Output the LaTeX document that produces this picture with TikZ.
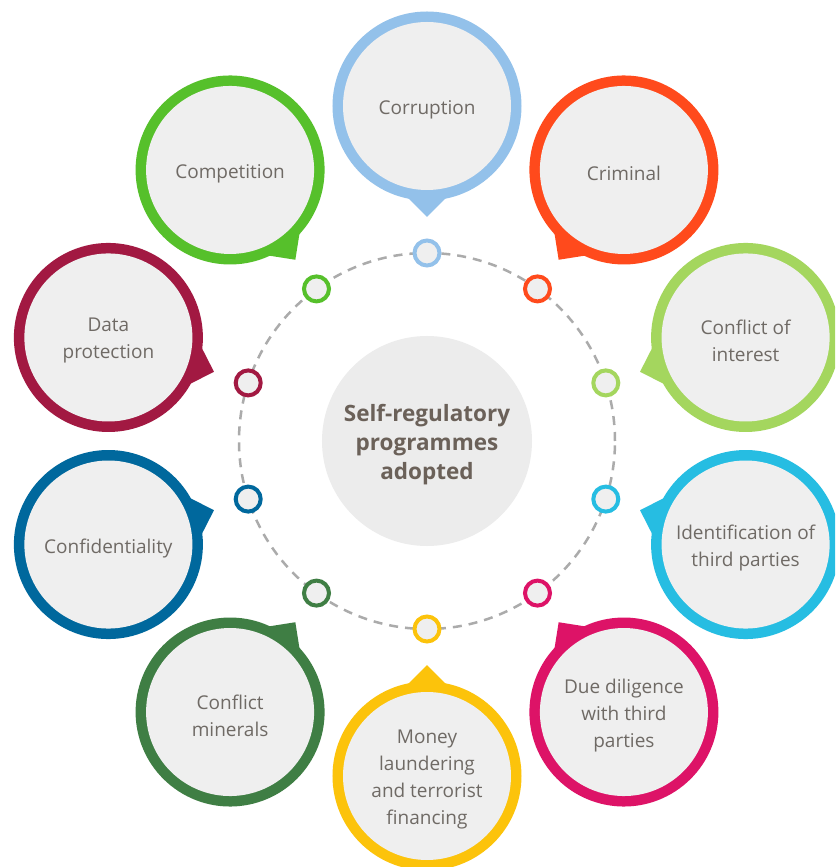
\documentclass[tikz,border=0pt]{standalone}
\usepackage{fontspec}
\setmainfont{Open Sans}
\definecolor{cCorr}{HTML}{93C1EA}
\definecolor{cCrim}{HTML}{FF4A1C}
\definecolor{cCoi}{HTML}{A4D65E}
\definecolor{cIdent}{HTML}{26BDE2}
\definecolor{cDue}{HTML}{DD1367}
\definecolor{cMoney}{HTML}{FCC30B}
\definecolor{cMin}{HTML}{3F7E44}
\definecolor{cConf}{HTML}{00689D}
\definecolor{cData}{HTML}{A21942}
\definecolor{cComp}{HTML}{56C02B}
\definecolor{bubfill}{HTML}{EFEFEF}
\definecolor{cenfill}{HTML}{ECECEC}
\definecolor{txtgray}{HTML}{6F6A65}
\definecolor{cengray}{HTML}{6B6159}
\definecolor{ringgray}{HTML}{ABABAB}
\newcommand\mybubble[4]{%
  \begin{scope}[shift={(#2:335)},rotate=#2]
    \fill[#3] (-111,0) -- (-88,23) -- (-88,-23) -- cycle;
    \fill[#3] (0,0) circle[radius=94.5];
    \fill[bubfill] (0,0) circle[radius=84];
  \end{scope}
  \node[bubtext] (#1) at (#2:335) {#4};
  \node[dot, draw=#3] (#1dot) at (#2:188) {};
}
\begin{document}
\begin{tikzpicture}[x=1pt,y=1pt,
  bubtext/.style={text=txtgray, align=center, font=\fontsize{19}{27}\selectfont, inner sep=0pt, yshift=-3.5pt},
  dot/.style={circle, line width=4pt, fill=bubfill, minimum size=25pt, inner sep=0pt},
  centre/.style={circle, fill=cenfill, minimum size=210pt, inner sep=0pt, text=cengray, align=center, font=\bfseries\fontsize{22.5}{29}\selectfont}]
\clip (-427,-426) rectangle (408,441);
\fill[white] (-427,-426) rectangle (408,441);
\draw[ringgray, line width=2.5pt, dash pattern=on 9pt off 7pt] (0,0) circle[radius=188];
\node[centre] (centre) at (0,0) {};
\node[text=cengray, align=center, font=\bfseries\fontsize{22.5}{29}\selectfont, inner sep=0pt] (centretext) at (0,-4) {Self-regulatory\\programmes\\adopted};
\mybubble{corr}{90}{cCorr}{Corruption}
\mybubble{crim}{54}{cCrim}{Criminal}
\mybubble{coi}{18}{cCoi}{Conflict of\\interest}
\mybubble{ident}{-18}{cIdent}{Identification of\\third parties}
\mybubble{due}{-54}{cDue}{Due diligence\\with third\\parties}
\mybubble{money}{-90}{cMoney}{Money\\laundering\\and terrorist\\financing}
\mybubble{mineral}{-126}{cMin}{Conflict\\minerals}
\mybubble{confid}{198}{cConf}{Confidentiality}
\mybubble{data}{162}{cData}{Data\\protection}
\mybubble{comp}{126}{cComp}{Competition}
\end{tikzpicture}
\end{document}
